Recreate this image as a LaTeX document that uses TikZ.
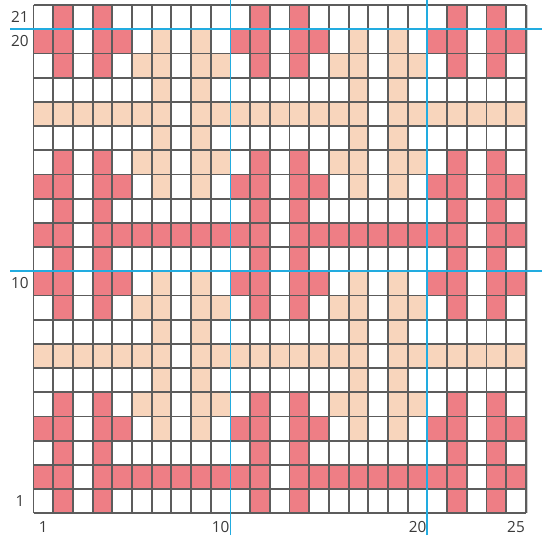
\documentclass[tikz,border=0pt]{standalone}
\usepackage{tikz}
\usetikzlibrary{positioning}
\usepackage{fontspec}
\setmainfont{Open Sans}
\usepackage{xcolor}
\definecolor{knitpink}{HTML}{EE7E85}
\definecolor{knitbeige}{HTML}{F8D5BC}
\definecolor{guideblue}{HTML}{22ACE0}
\definecolor{gridgray}{HTML}{5C5C5C}
\definecolor{labelgray}{HTML}{3A3A3A}

\begin{document}
\begin{tikzpicture}[x=14.77pt,y=18.15pt,
    gridline/.style={gridgray,line width=1.4pt},
    guide/.style={guideblue,line width=1.4pt},
    rownum/.style={labelgray,font=\fontsize{11.5}{12}\selectfont},
    colnum/.style={labelgray,font=\fontsize{11.5}{12}\selectfont}]
  \useasboundingbox (-1.701,-1.227) rectangle (25.825,21.21);
  \fill[white] (-1.701,-1.227) rectangle (25.825,21.21);
  \begin{scope}
    \clip (0,0) rectangle (25,21);
    \foreach \dx in {0,10,20} {
      \foreach \dy in {0,10,20} {
        \begin{scope}[shift={(\dx,\dy)}]
          % pink motif
          \foreach \m in {1,3,4,5,9,10} {
            \foreach \n in {2,4}
              \fill[knitpink] (\n-1,\m-1) rectangle (\n,\m);
          }
          \foreach \m in {4,10} {
            \fill[knitpink] (0,\m-1) rectangle (1,\m);
            \fill[knitpink] (4,\m-1) rectangle (5,\m);
          }
          \fill[knitpink] (0,1) rectangle (2,2);
          \fill[knitpink] (3,1) rectangle (10,2);
          % beige motif
          \foreach \m in {4,5,6,8,9,10} {
            \foreach \n in {7,9}
              \fill[knitbeige] (\n-1,\m-1) rectangle (\n,\m);
          }
          \foreach \m in {5,9} {
            \fill[knitbeige] (5,\m-1) rectangle (6,\m);
            \fill[knitbeige] (9,\m-1) rectangle (10,\m);
          }
          \fill[knitbeige] (0,6) rectangle (7,7);
          \fill[knitbeige] (8,6) rectangle (10,7);
        \end{scope}
      }
    }
  \end{scope}
  \foreach \c in {0,...,25}
    \draw[gridline] (\c,0) -- (\c,21);
  \foreach \r in {0,...,21}
    \draw[gridline] (0,\r) -- (25,\r);
  \draw[gridgray!30,line width=1pt] (25.1,0) -- (25.1,21);
  \foreach \c in {10,20}
    \draw[guide] (\c,-0.9) -- (\c,21.21);
  \foreach \r in {10,20}
    \draw[guide] (-1.19,\r) -- (25.825,\r);
  \foreach \r in {1,10,20,21}
    \node[rownum] (row\r) at (-0.69,\r-0.5) {\r};
  \foreach \c in {1,10,20,25}
    \node[colnum] (col\c) at (\c-0.5,-0.57) {\c};
\end{tikzpicture}
\end{document}
